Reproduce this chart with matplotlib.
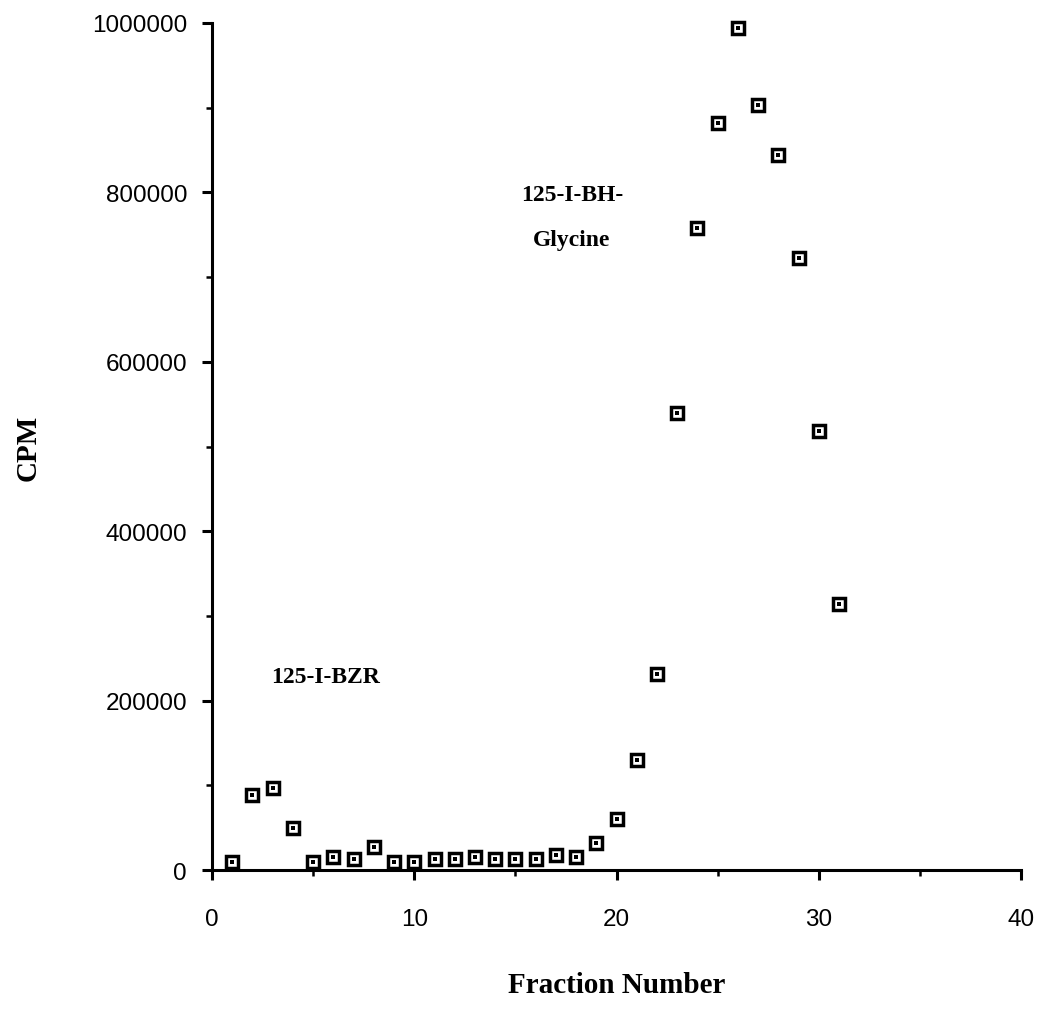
import matplotlib
matplotlib.use('Agg')
import matplotlib.pyplot as plt
from matplotlib.ticker import MultipleLocator, FuncFormatter

# fraction number vs counts per minute
fractions = list(range(1, 32))
cpm = [9000, 88500, 97000, 50000, 10000, 15000, 12500, 27500, 10000, 10000,
       12500, 12500, 15000, 12500, 12500, 12500, 18000, 15500, 31500, 60000,
       130000, 232000, 539000, 758000, 882000, 994000, 903000, 844000, 723000,
       518000, 314000]

labels = [('125-I-BH-', 17.8, 797000), ('Glycine', 17.8, 744000), ('125-I-BZR', 5.6, 228000)]

fig = plt.figure(figsize=(10.41, 10.12), dpi=100)
ax = fig.add_axes([0.2037, 0.1393, 0.9808 - 0.2037, 0.9763 - 0.1393])

# open squares with a dot in the middle
ax.plot(fractions, cpm, linestyle='none', marker='s', markersize=8.2,
        markerfacecolor='white', markeredgecolor='black', markeredgewidth=2.5,
        clip_on=False, zorder=3)
ax.plot(fractions, cpm, linestyle='none', marker='s', markersize=2.3,
        color='black', markeredgewidth=0, clip_on=False, zorder=4)

for txt, x, y in labels:
    ax.text(x, y, txt, ha='center', va='center', fontsize=17,
            family='Liberation Serif', fontweight='bold')

ax.set_xlim(0, 40)
ax.set_ylim(0, 1000000)
ax.xaxis.set_major_locator(MultipleLocator(10))
ax.xaxis.set_minor_locator(MultipleLocator(5))
ax.yaxis.set_major_locator(MultipleLocator(200000))
ax.yaxis.set_minor_locator(MultipleLocator(100000))
ax.yaxis.set_major_formatter(FuncFormatter(lambda v, p: '%d' % v))

for s in ['top', 'right']:
    ax.spines[s].set_visible(False)
for s in ['left', 'bottom']:
    ax.spines[s].set_linewidth(2.2)

ax.tick_params(which='major', direction='out', length=7, width=2.2)
ax.tick_params(which='minor', direction='out', length=4.5, width=1.8)
ax.tick_params(axis='x', which='major', pad=20)
ax.tick_params(axis='y', which='major', pad=11)
for lab in ax.get_xticklabels() + ax.get_yticklabels():
    lab.set_family('Liberation Sans')
    lab.set_fontsize(17.5)

ax.set_xlabel('Fraction Number', family='Liberation Serif', fontweight='bold',
              fontsize=21, labelpad=30)
ax.set_ylabel('CPM', family='Liberation Serif', fontweight='bold',
              fontsize=21, labelpad=36)

fig.savefig('out.png', dpi=100, facecolor='white')
